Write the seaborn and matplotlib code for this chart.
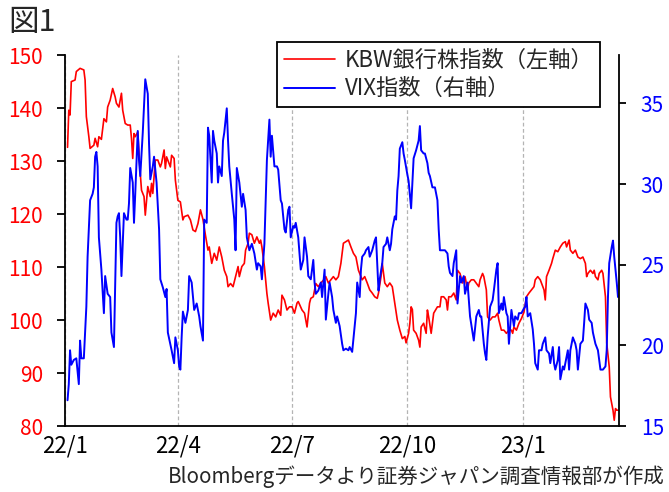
import numpy as np
import pandas as pd
import matplotlib
matplotlib.use('Agg')
import matplotlib.pyplot as plt
import seaborn as sns

# day offsets from 2022-01-01
kbw_day = [2, 3, 4, 5, 8, 9, 12, 15, 16, 17,
           19, 20, 23, 24, 26, 27, 29, 31, 33, 34,
           36, 38, 40, 41, 43, 45, 46, 48, 50, 52,
           53, 54, 55, 56, 58, 60, 61, 63, 64, 66,
           68, 69, 70, 72, 74, 76, 77, 79, 80, 81,
           84, 85, 87, 88, 90, 92, 94, 95, 98, 100,
           102, 104, 106, 108, 110, 112, 114, 115, 117, 119,
           121, 123, 125, 127, 129, 130, 132, 134, 136, 138,
           139, 141, 143, 144, 146, 147, 149, 151, 153, 155,
           156, 157, 159, 161, 162, 164, 166, 168, 170, 172,
           173, 175, 177, 179, 181, 183, 185, 186, 189, 191,
           193, 195, 196, 198, 200, 202, 204, 206, 208, 210,
           212, 214, 216, 218, 220, 222, 224, 226, 228, 230,
           232, 234, 235, 237, 239, 241, 243, 245, 247, 249,
           250, 252, 253, 255, 257, 259, 261, 263, 265, 267,
           269, 271, 272, 274, 275, 276, 277, 278, 280, 282,
           283, 284, 286, 288, 289, 290, 292, 293, 294, 297,
           299, 300, 302, 304, 305, 306, 308, 310, 312, 313,
           315, 317, 319, 321, 322, 324, 326, 330, 331, 333,
           334, 336, 337, 339, 341, 343, 345, 346, 348, 350,
           352, 354, 356, 357, 358, 360, 362, 364, 366, 368,
           370, 372, 374, 375, 377, 379, 381, 382, 383, 384,
           386, 388, 389, 391, 393, 395, 397, 399, 400, 402,
           403, 405, 407, 409, 411, 413, 415, 416, 417, 419,
           421, 422, 423, 425, 426, 428, 429, 431, 432, 434,
           435, 437, 438, 439, 440, 441]
kbw_val = [132.6, 139.6, 138.7, 145.0, 145.3, 146.9, 147.5, 147.2, 145.3, 138.4,
           134.6, 132.4, 133.0, 134.3, 132.7, 134.6, 134.1, 138.0, 137.4, 140.2,
           141.5, 143.7, 142.1, 140.9, 140.2, 142.8, 139.6, 137.1, 136.8, 136.8,
           134.3, 130.5, 135.2, 134.6, 135.5, 127.7, 124.5, 123.3, 119.8, 125.2,
           123.3, 125.8, 123.9, 130.2, 130.2, 128.9, 129.6, 132.1, 128.6, 130.8,
           128.9, 131.1, 130.5, 126.4, 122.6, 122.3, 118.9, 119.5, 119.8, 118.9,
           117.0, 116.7, 118.2, 120.8, 119.0, 116.0, 113.2, 113.8, 110.7, 112.6,
           111.3, 113.8, 111.9, 109.4, 108.2, 106.3, 106.9, 106.3, 108.2, 110.1,
           108.2, 110.1, 110.7, 113.2, 114.5, 116.4, 116.1, 114.5, 115.7, 114.5,
           115.1, 113.8, 110.1, 105.0, 103.2, 100.0, 101.3, 100.6, 101.9, 100.9,
           104.7, 103.8, 101.9, 102.5, 102.5, 101.3, 103.2, 103.5, 101.9, 101.3,
           98.7, 103.2, 104.1, 104.4, 106.9, 106.3, 107.0, 107.5, 108.2, 107.0,
           107.6, 108.2, 107.6, 108.2, 110.7, 114.5, 114.8, 115.1, 113.8, 112.6,
           111.9, 109.4, 108.8, 107.6, 108.2, 107.0, 105.7, 105.1, 104.4, 104.1,
           105.1, 108.2, 110.7, 107.0, 106.3, 107.0, 106.3, 103.2, 100.0, 98.1,
           96.5, 96.9, 95.7, 97.5, 99.4, 102.5, 102.0, 98.1, 97.5, 96.2,
           94.9, 98.7, 99.4, 97.5, 101.9, 100.6, 97.5, 99.4, 101.3, 102.5,
           102.5, 104.4, 104.4, 103.8, 101.9, 104.4, 104.4, 105.1, 103.8, 109.4,
           108.8, 107.0, 108.2, 105.7, 107.0, 107.6, 107.6, 106.3, 107.6, 108.8,
           108.2, 105.7, 100.6, 100.0, 100.6, 100.6, 101.3, 100.0, 98.1, 98.1,
           97.5, 98.1, 98.1, 97.5, 98.7, 98.1, 99.4, 100.3, 101.5, 104.4,
           105.1, 105.7, 106.3, 107.6, 108.2, 107.6, 106.3, 105.7, 103.8, 108.2,
           109.4, 110.7, 111.6, 113.2, 112.9, 113.8, 114.5, 114.8, 113.8, 115.1,
           113.2, 112.6, 113.2, 111.9, 111.6, 111.9, 110.7, 108.2, 108.8, 109.4,
           108.8, 109.4, 108.2, 107.6, 108.8, 109.4, 108.8, 104.4, 95.7, 91.2,
           85.5, 83.0, 81.1, 83.3, 83.0, 83.0]

vix_day = [2, 3, 4, 5, 7, 9, 11, 12, 13, 15,
           17, 18, 20, 22, 23, 24, 25, 26, 27, 29,
           31, 32, 34, 36, 37, 39, 41, 42, 43, 44,
           45, 47, 49, 50, 51, 52, 54, 55, 56, 58,
           59, 60, 62, 64, 66, 67, 68, 70, 71, 73,
           75, 76, 78, 80, 81, 82, 85, 87, 88, 90,
           91, 92, 93, 94, 96, 98, 99, 101, 103, 105,
           107, 108, 110, 111, 113, 114, 115, 117, 118, 119,
           121, 122, 123, 125, 126, 127, 129, 130, 131, 133,
           135, 136, 137, 139, 141, 142, 144, 145, 147, 149,
           151, 153, 154, 156, 157, 159, 161, 163, 164, 165,
           167, 169, 170, 172, 173, 175, 176, 178, 179, 180,
           182, 183, 184, 186, 188, 190, 191, 193, 194, 196,
           198, 199, 200, 202, 204, 205, 207, 208, 210, 211,
           213, 214, 216, 217, 219, 221, 222, 224, 226, 227,
           229, 231, 232, 233, 235, 236, 237, 239, 240, 242,
           243, 245, 247, 248, 249, 250, 251, 253, 254, 256,
           257, 259, 260, 261, 263, 264, 265, 266, 267, 269,
           270, 271, 273, 274, 276, 278, 280, 282, 283, 284,
           286, 287, 289, 290, 291, 293, 295, 297, 298, 299,
           301, 303, 305, 306, 307, 309, 310, 312, 313, 315,
           316, 318, 319, 321, 323, 325, 326, 328, 330, 331,
           332, 334, 335, 336, 337, 339, 341, 342, 344, 345,
           346, 348, 349, 350, 352, 353, 354, 356, 358, 359,
           361, 362, 364, 366, 367, 368, 369, 371, 373, 374,
           375, 377, 378, 380, 381, 383, 384, 386, 387, 389,
           390, 391, 393, 394, 395, 397, 398, 399, 401, 402,
           403, 405, 407, 408, 409, 411, 413, 414, 415, 417,
           418, 420, 421, 423, 425, 427, 429, 431, 432, 433,
           434, 436, 437, 438, 440, 441]
vix_val = [16.6, 17.6, 19.7, 18.8, 19.1, 19.2, 17.6, 20.3, 19.2, 19.2,
           22.4, 25.5, 29.0, 29.4, 29.8, 31.7, 32.0, 31.1, 26.7, 24.7,
           22.0, 24.3, 23.2, 23.0, 20.8, 19.9, 27.6, 28.0, 28.2, 26.7,
           24.3, 28.2, 27.8, 27.8, 28.8, 31.0, 30.1, 27.6, 29.4, 33.3,
           31.5, 30.5, 33.2, 36.5, 35.6, 32.5, 30.3, 31.1, 31.7, 30.1,
           27.2, 24.1, 23.6, 23.0, 23.5, 20.8, 19.7, 18.9, 20.5, 19.7,
           18.7, 18.5, 20.5, 22.1, 21.4, 22.2, 24.3, 23.9, 22.2, 22.6,
           21.8, 21.2, 20.3, 27.8, 27.6, 33.5, 33.0, 30.1, 33.3, 32.7,
           31.9, 30.1, 31.1, 30.5, 32.7, 33.2, 34.7, 32.7, 31.1, 29.4,
           27.8, 25.9, 31.0, 30.1, 28.6, 29.4, 28.4, 26.7, 25.9, 26.3,
           25.7, 24.7, 25.1, 24.9, 24.1, 26.3, 31.5, 34.0, 31.7, 33.0,
           31.1, 31.1, 30.9, 29.0, 28.8, 27.2, 27.0, 28.4, 28.6, 26.7,
           27.4, 27.3, 27.6, 26.7, 24.7, 25.3, 26.7, 25.5, 24.3, 24.1,
           25.3, 23.9, 23.2, 23.4, 23.9, 23.0, 24.7, 21.6, 23.2, 23.9,
           23.0, 22.2, 21.4, 21.8, 21.2, 20.1, 19.7, 19.8, 19.7, 19.9,
           19.6, 21.2, 22.0, 23.9, 23.0, 24.7, 25.5, 25.7, 25.9, 26.1,
           25.5, 25.9, 26.5, 26.7, 25.1, 23.4, 24.1, 25.1, 26.1, 26.3,
           26.7, 25.9, 26.3, 27.2, 28.0, 27.8, 29.6, 30.5, 32.2, 32.6,
           31.9, 31.5, 30.6, 30.2, 28.5, 31.6, 32.1, 32.7, 33.6, 32.1,
           31.9, 31.9, 31.3, 30.7, 30.5, 29.8, 29.8, 29.0, 27.2, 25.9,
           25.9, 25.9, 25.7, 24.9, 24.5, 24.3, 25.1, 25.9, 22.6, 24.3,
           23.9, 24.3, 23.2, 23.9, 21.8, 20.8, 20.3, 21.8, 22.2, 21.8,
           21.8, 20.1, 19.5, 19.1, 20.5, 22.4, 22.8, 23.4, 24.7, 25.1,
           22.0, 22.6, 22.2, 23.0, 22.0, 21.8, 20.1, 22.2, 21.2, 21.8,
           21.6, 22.0, 22.0, 22.3, 22.4, 23.0, 21.8, 22.0, 21.0, 20.1,
           18.9, 18.5, 19.7, 19.7, 20.1, 20.5, 19.7, 19.5, 18.9, 19.9,
           18.9, 18.5, 19.1, 19.9, 17.9, 18.7, 18.5, 18.9, 19.7, 18.5,
           19.7, 20.5, 20.1, 19.7, 18.5, 20.1, 20.3, 21.4, 22.6, 22.2,
           21.6, 21.4, 20.8, 20.1, 19.7, 18.5, 18.5, 18.7, 19.7, 23.0,
           25.1, 26.1, 26.5, 25.5, 23.9, 23.0]

x_tick_dates = ['2022-01-01', '2022-04-01', '2022-07-01', '2022-10-01', '2023-01-01']
x_tick_labels = ['22/1', '22/4', '22/7', '22/10', '23/1']
left_ticks = [80, 90, 100, 110, 120, 130, 140, 150]
right_ticks = [15, 20, 25, 30, 35]

label_kbw = 'KBW銀行株指数（左軸）'
label_vix = 'VIX指数（右軸）'
title = '図1'
source = 'Bloombergデータより証券ジャパン調査情報部が作成'

RED = '#ff0000'
BLUE = '#0000ff'


def main():
    sns.set_style('white')
    plt.rcParams['font.family'] = ['Noto Sans CJK JP', 'DejaVu Sans']

    base = pd.Timestamp('2022-01-01')
    df_kbw = pd.DataFrame({'date': base + pd.to_timedelta(kbw_day, unit='D'),
                           'value': kbw_val})
    df_vix = pd.DataFrame({'date': base + pd.to_timedelta(vix_day, unit='D'),
                           'value': vix_val})

    fig = plt.figure(figsize=(6.69, 4.92), dpi=100)
    ax = fig.add_axes([0.0972, 0.134, 0.8275, 0.754])
    ax2 = ax.twinx()

    sns.lineplot(data=df_kbw, x='date', y='value', ax=ax, color=RED, lw=1.2)
    sns.lineplot(data=df_vix, x='date', y='value', ax=ax2, color=BLUE, lw=1.4)

    ax.set_xlim(base, base + pd.Timedelta(days=441.5))
    ax.set_ylim(80, 150)
    ax2.set_ylim(15, 38)
    ax.set_xlabel('')
    ax.set_ylabel('')
    ax2.set_ylabel('')

    ax.set_xticks(pd.to_datetime(x_tick_dates))
    ax.set_xticklabels(x_tick_labels)
    ax.set_yticks(left_ticks)
    ax2.set_yticks(right_ticks)

    # dashed vertical grid at the quarter marks
    ax.grid(True, axis='x', color='#b4b4b4', linestyle=(0, (3, 2)), linewidth=0.9)
    ax.grid(False, axis='y')
    ax2.grid(False)
    ax.set_axisbelow(True)

    for sp in ['top', 'right']:
        ax.spines[sp].set_visible(False)
    for sp in ['top', 'left', 'bottom']:
        ax2.spines[sp].set_visible(False)
    for sp in [ax.spines['left'], ax.spines['bottom'], ax2.spines['right']]:
        sp.set_color('black')
        sp.set_linewidth(1.3)

    ax.tick_params(axis='x', direction='in', length=6, width=1.3, color='black',
                   labelsize=16, pad=6, labelcolor='black')
    ax.tick_params(axis='y', direction='out', length=6, width=1.3, color='black',
                   labelsize=15, pad=10, labelcolor=RED)
    ax2.tick_params(axis='y', direction='out', length=5, width=1.3, color='black',
                    labelsize=15, pad=11, labelcolor=BLUE)

    handles = [ax.lines[0], ax2.lines[0]]
    leg = ax2.legend(handles, [label_kbw, label_vix], loc='upper left',
                     bbox_to_anchor=(0.383, 1.035), fontsize=16, frameon=True,
                     fancybox=False, edgecolor='black', framealpha=1,
                     handlelength=2.3, handletextpad=0.45, borderpad=0.3,
                     labelspacing=0.25, borderaxespad=0)
    leg.get_frame().set_linewidth(1.3)

    fig.text(0.012, 0.985, title, fontsize=22, ha='left', va='top')
    fig.text(0.993, 0.008, source, fontsize=14.8, ha='right', va='bottom')

    fig.savefig('out.png', dpi=100)
    return 0


if __name__ == '__main__':
    main()
